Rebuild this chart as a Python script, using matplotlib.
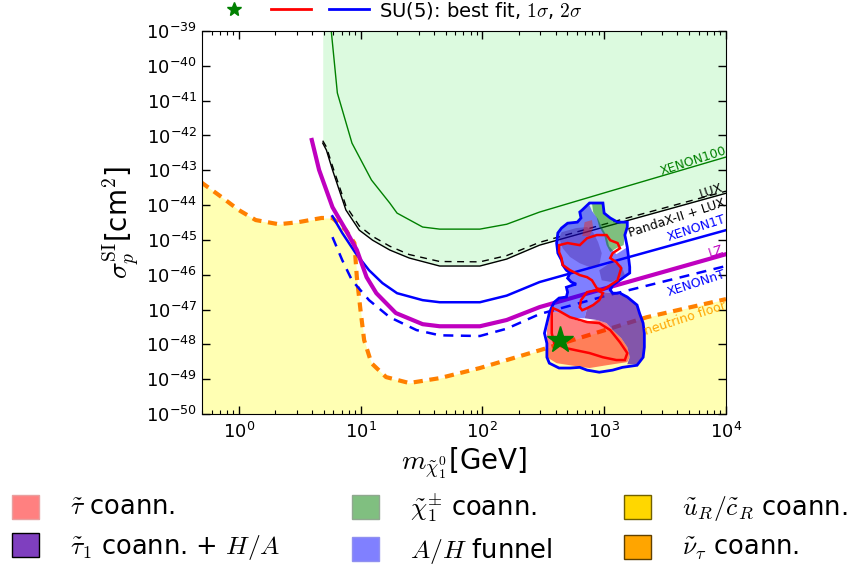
import numpy as np
import matplotlib
matplotlib.use('Agg')
import matplotlib.pyplot as plt
from matplotlib.patches import Patch, Polygon
from matplotlib.lines import Line2D
from matplotlib.legend_handler import HandlerTuple
from matplotlib.ticker import LogLocator, NullLocator, FixedLocator

plt.rcParams['axes.unicode_minus'] = False
plt.rcParams['mathtext.fontset'] = 'cm'
plt.rcParams['font.family'] = ['DejaVu Sans']

# ---------------- data: log10(m / GeV), log10(sigma / cm^2) ----------------
xenon100_logm = [0.76, 0.81, 0.93, 1.09, 1.24, 1.30, 1.51, 1.65, 1.98, 2.20, 2.47, 3.00, 4.00]
xenon100_logs = [-39.0, -40.78, -42.22, -43.28, -43.94, -44.23, -44.63, -44.69, -44.69, -44.55, -44.20, -43.65, -42.62]

lux_logm = [0.69, 0.72, 0.77, 0.88, 0.99, 1.10, 1.24, 1.40, 1.65, 1.98, 2.20, 2.47, 3.00, 4.00]
lux_logs = [-42.22, -42.42, -42.99, -44.14, -44.72, -45.01, -45.29, -45.52, -45.75, -45.75, -45.55, -45.15, -44.63, -43.66]

pandax_logm = [0.69, 0.72, 0.77, 0.88, 0.99, 1.10, 1.24, 1.40, 1.65, 1.98, 2.20, 2.47, 3.00, 4.00]
pandax_logs = [-42.15, -42.33, -42.88, -44.02, -44.60, -44.90, -45.18, -45.42, -45.62, -45.63, -45.45, -45.07, -44.55, -43.60]

xenon1t_logm = [0.77, 0.85, 0.96, 1.07, 1.18, 1.30, 1.51, 1.65, 1.98, 2.20, 2.47, 3.00, 4.00]
xenon1t_logs = [-44.32, -44.80, -45.38, -45.87, -46.24, -46.53, -46.73, -46.79, -46.79, -46.60, -46.21, -45.69, -44.72]

lz_logm = [0.60, 0.66, 0.77, 0.88, 0.97, 1.05, 1.13, 1.29, 1.51, 1.65, 1.98, 2.20, 2.47, 3.00, 4.00]
lz_logs = [-42.13, -42.99, -44.06, -44.72, -45.29, -46.07, -46.53, -47.10, -47.42, -47.48, -47.48, -47.30, -46.93, -46.40, -45.41]

xenonnt_logm = [0.77, 0.85, 0.93, 1.07, 1.24, 1.46, 1.65, 1.98, 2.20, 2.47, 3.00, 4.00]
xenonnt_logs = [-44.92, -45.58, -46.16, -46.73, -47.22, -47.59, -47.74, -47.76, -47.55, -47.13, -46.62, -45.75]

nu_logm = [-0.31, -0.14, 0.00, 0.14, 0.33, 0.49, 0.68, 0.77, 0.88, 0.95, 0.97, 1.00, 1.03,
           1.09, 1.21, 1.40, 1.65, 1.98, 2.47, 3.35, 4.00]
nu_logs = [-43.34, -43.77, -44.14, -44.43, -44.55, -44.49, -44.37, -44.37, -44.72, -45.09, -46.07,
           -47.02, -47.88, -48.54, -48.94, -49.11, -48.97, -48.68, -48.17, -47.22, -46.70]

# SU(5) fit regions
outline2s_logm = [2.88, 2.99, 3.00, 3.05, 3.11, 3.19, 3.19, 3.17, 3.19, 3.21, 3.21, 3.15, 3.07, 3.05,
                  3.07, 3.13, 3.19, 3.27, 3.29, 3.32, 3.33, 3.33, 3.32, 3.27, 3.15, 3.07, 2.96, 2.86,
                  2.80, 2.72, 2.63, 2.55, 2.53, 2.53, 2.51, 2.53, 2.55, 2.57, 2.59, 2.63, 2.69, 2.70,
                  2.69, 2.74, 2.77, 2.73, 2.70, 2.72, 2.69, 2.66, 2.65, 2.62, 2.61, 2.62, 2.65, 2.70,
                  2.78, 2.81, 2.80, 2.82]
outline2s_logs = [-43.94, -43.94, -44.23, -44.37, -44.49, -44.49, -44.63, -44.86, -45.21, -45.78,
                  -45.95, -46.10, -46.30, -46.44, -46.53, -46.53, -46.64, -46.87, -47.10, -47.39,
                  -47.68, -48.08, -48.37, -48.60, -48.66, -48.74, -48.80, -48.74, -48.66, -48.68,
                  -48.68, -48.54, -48.37, -47.97, -47.68, -47.39, -47.10, -46.93, -46.79, -46.67,
                  -46.64, -46.50, -46.36, -46.30, -46.27, -46.21, -46.10, -45.95, -45.87, -45.72,
                  -45.58, -45.38, -45.09, -44.80, -44.66, -44.52, -44.49, -44.37, -44.20, -44.14]

red1_logm = [2.63, 2.70, 2.80, 2.86, 2.94, 3.02, 3.05, 3.11, 3.13, 3.07, 3.05, 3.10, 3.14, 3.11,
             3.05, 2.99, 2.94, 2.90, 2.86, 2.80, 2.72, 2.66, 2.65, 2.63]
red1_logs = [-45.15, -45.09, -45.15, -44.95, -44.86, -44.86, -45.01, -45.09, -45.24, -45.38, -45.52,
             -45.64, -45.81, -46.16, -46.30, -46.44, -46.39, -46.16, -46.07, -46.01, -45.87, -45.72,
             -45.52, -45.35]
red2_logm = [2.86, 2.94, 2.99, 2.96, 2.91, 2.86, 2.82, 2.80, 2.81, 2.84]
red2_logs = [-46.50, -46.44, -46.53, -46.73, -46.87, -46.96, -47.02, -46.93, -46.73, -46.59]
red3_logm = [2.58, 2.62, 2.72, 2.86, 2.96, 3.05, 3.13, 3.19, 3.17, 3.10, 2.99, 2.88, 2.77, 2.69,
             2.59, 2.57, 2.57, 2.57]
red3_logs = [-46.96, -47.02, -47.22, -47.36, -47.39, -47.59, -47.94, -48.25, -48.45, -48.45, -48.37,
             -48.25, -48.17, -48.11, -47.97, -47.68, -47.39, -47.10]

funnel_logm = [3.13, 3.07, 3.05, 3.07, 3.15, 3.21, 3.21, 3.19, 3.10, 3.04, 3.02, 2.98, 2.95, 2.90,
               2.88, 2.82, 2.80, 2.81, 2.78, 2.70, 2.65, 2.62, 2.61, 2.62, 2.65, 2.66, 2.69, 2.72,
               2.70, 2.73, 2.77, 2.74, 2.69, 2.70, 2.69, 2.63, 2.59, 2.57, 2.55, 2.55, 2.58, 2.66,
               2.72, 2.84, 2.86, 2.94, 2.99, 3.09]
funnel_logs = [-46.53, -46.53, -46.44, -46.30, -46.10, -45.95, -45.78, -45.21, -45.41, -45.18, -44.89,
               -44.63, -44.40, -44.17, -44.00, -44.14, -44.20, -44.37, -44.49, -44.52, -44.66, -44.80,
               -45.09, -45.38, -45.58, -45.72, -45.87, -45.95, -46.10, -46.21, -46.27, -46.30, -46.36,
               -46.50, -46.64, -46.67, -46.79, -46.93, -47.10, -47.22, -47.07, -47.10, -47.25, -47.25,
               -46.96, -46.79, -46.50, -46.53]

stau_logm = [2.58, 2.66, 2.72, 2.82, 2.94, 3.02, 3.07, 3.14, 3.19, 3.21, 3.19, 3.02, 2.88, 2.72,
             2.61, 2.53, 2.53, 2.53, 2.55]
stau_logs = [-47.07, -47.10, -47.25, -47.36, -47.30, -47.39, -47.59, -47.82, -48.08, -48.37, -48.51,
             -48.60, -48.68, -48.60, -48.54, -48.37, -47.97, -47.59, -47.22]

purple_logm = [2.99, 3.09, 3.19, 3.27, 3.32, 3.33, 3.32, 3.27, 3.19, 3.21, 3.19, 3.14, 3.07, 3.02,
               2.94, 2.84, 2.86, 2.94]
purple_logs = [-46.50, -46.53, -46.64, -46.87, -47.30, -47.79, -48.31, -48.57, -48.57, -48.37, -48.08,
               -47.82, -47.59, -47.39, -47.30, -47.25, -46.96, -46.79]

purple_up1_logm = [2.65, 2.77, 2.86, 2.91, 2.95, 2.98, 2.96, 2.88, 2.80, 2.72, 2.66, 2.63]
purple_up1_logs = [-44.78, -44.66, -44.63, -44.78, -45.06, -45.38, -45.72, -45.78, -45.67, -45.49, -45.24, -44.95]
purple_up2_logm = [2.96, 3.06, 3.14, 3.17, 3.06, 2.98]
purple_up2_logs = [-45.87, -45.64, -45.72, -46.01, -46.21, -46.16]

chargino_logm = [2.90, 2.99, 3.00, 3.05, 3.11, 3.19, 3.19, 3.17, 3.16, 3.10, 3.05, 3.02, 3.00, 2.96, 2.94, 2.91]
chargino_logs = [-43.94, -43.94, -44.23, -44.37, -44.49, -44.49, -44.63, -44.86, -45.15, -45.24, -45.35,
                 -45.15, -44.86, -44.63, -44.37, -44.20]

stau_up_logm = [2.84, 2.90, 2.91, 2.88, 2.82]
stau_up_logs = [-44.49, -44.43, -44.66, -44.89, -44.89]

bestfit_logm = [2.634]
bestfit_logs = [-47.88]

curve_labels = ['XENON100', 'LUX', 'PandaX-II + LUX', 'XENON1T', 'LZ', 'XENONnT', 'neutrino floor']
curve_label_logm = [3.73, 3.88, 3.60, 3.755, 3.915, 3.755, 3.665]
curve_label_logs = [-42.74, -43.60, -44.37, -44.66, -45.32, -46.24, -47.25]

y_tick_exponents = list(range(-50, -38))
x_tick_exponents = [0, 1, 2, 3, 4]

legend_labels = [r'$\tilde{\tau}$ coann.', r'$\tilde{\tau}_1$ coann. + $H/A$',
                 r'$\tilde{\chi}_1^{\pm}$ coann.', r'$A/H$ funnel',
                 r'$\tilde{u}_R/\tilde{c}_R$ coann.', r'$\tilde{\nu}_{\tau}$ coann.']


def p(a):
    return 10.0 ** np.asarray(a, dtype=float)


fig = plt.figure(figsize=(8.47, 5.69), dpi=100)
ax = fig.add_axes([0.2385, 0.2724, 0.6186, 0.6731])
ax.set_xscale('log')
ax.set_yscale('log')
ax.set_xlim(0.5, 1e4)
ax.set_ylim(1e-50, 1e-39)

# exclusion / floor fills
ax.fill_between(p(lux_logm), p(lux_logs), 1e-39, color='#DCFADF', lw=0, zorder=0.5)
ax.fill_between(p(nu_logm), 1e-50, p(nu_logs), color='#FFFFB3', lw=0, zorder=0.5)

# limit curves
ax.plot(p(nu_logm), p(nu_logs), color='#FF8000', lw=3, ls=(0, (2.2, 1.6)), zorder=2)
ax.plot(p(xenon100_logm), p(xenon100_logs), color='green', lw=1, zorder=2)
ax.plot(p(lux_logm), p(lux_logs), color='black', lw=1, zorder=2)
ax.plot(p(pandax_logm), p(pandax_logs), color='black', lw=1, ls=(0, (5, 4)), zorder=2)
ax.plot(p(xenon1t_logm), p(xenon1t_logs), color='blue', lw=1.8, zorder=2)
ax.plot(p(lz_logm), p(lz_logs), color='#BF00BF', lw=3, zorder=2)
ax.plot(p(xenonnt_logm), p(xenonnt_logs), color='blue', lw=1.8, ls=(0, (4, 3)), zorder=2)


# fit regions
def region(lm, ls_, color, alpha, z=3, ec='none', lw=0):
    ax.add_patch(Polygon(np.column_stack([p(lm), p(ls_)]), closed=True, facecolor=color,
                         edgecolor=ec, lw=lw, alpha=alpha, zorder=z))


region(funnel_logm, funnel_logs, '#0000FF', 0.5)
region(purple_up1_logm, purple_up1_logs, '#3A0A80', 0.3, z=3.1)
region(purple_up2_logm, purple_up2_logs, '#3A0A80', 0.35, z=3.1)
region(chargino_logm, chargino_logs, '#008000', 0.5)
region(stau_up_logm, stau_up_logs, '#FF2000', 0.4, z=3.2)
region(stau_logm, stau_logs, '#FF0000', 0.5)
region(purple_logm, purple_logs, '#5A1EA8', 0.75)

ax.add_patch(Polygon(np.column_stack([p(outline2s_logm), p(outline2s_logs)]), closed=True,
                     fill=False, edgecolor='blue', lw=2, zorder=4))
for lm, ls_ in [(red1_logm, red1_logs), (red2_logm, red2_logs), (red3_logm, red3_logs)]:
    ax.add_patch(Polygon(np.column_stack([p(lm), p(ls_)]), closed=True, fill=False,
                         edgecolor='red', lw=1.8, zorder=4.1))
ax.plot(p(bestfit_logm), p(bestfit_logs), marker='*', color='green', ms=20, ls='none', zorder=5)

# curve labels
label_colors = ['green', 'black', 'black', 'blue', '#BF00BF', 'blue', 'orange']
for t, lm, ls_, c in zip(curve_labels, curve_label_logm, curve_label_logs, label_colors):
    ax.text(p(lm), p(ls_), t, color=c, fontsize=9, rotation=18, rotation_mode='anchor',
            ha='center', va='center', zorder=6)

# axes styling
ax.yaxis.set_major_locator(FixedLocator(p(y_tick_exponents)))
ax.yaxis.set_minor_locator(NullLocator())
ax.xaxis.set_major_locator(FixedLocator(p(x_tick_exponents)))
ax.xaxis.set_minor_locator(LogLocator(base=10, subs=np.arange(2, 10), numticks=20))
ax.tick_params(which='both', direction='in', top=True, right=True, labelsize=13)
ax.tick_params(which='major', length=6, width=1)
ax.tick_params(which='minor', length=3, width=0.8)
ax.tick_params(axis='x', pad=6)
ax.set_xlabel(r'$m_{\tilde{\chi}^0_1}$[GeV]', fontsize=20, labelpad=2)
ax.set_ylabel(r'$\sigma_p^{\rm SI}$[cm$^2$]', fontsize=20, labelpad=4)

# top legend: one entry with three handles side by side
h_star = Line2D([], [], marker='*', color='green', ls='none', ms=10)
h_red = Line2D([], [], color='red', lw=2)
h_blue = Line2D([], [], color='blue', lw=2)
fig.legend([(h_star, h_red, h_blue)], [r'SU(5): best fit, $1\sigma$, $2\sigma$'],
           handler_map={tuple: HandlerTuple(ndivide=None, pad=0.9)},
           frameon=False, loc='center left', bbox_to_anchor=(0.252, 0.982), fontsize=14,
           handlelength=8.0, handletextpad=0.5, borderaxespad=0, borderpad=0)

# bottom legend
patch_fc = ['#FF8080', '#7F3FBF', '#80BF80', '#8080FF', '#FFD700', '#FFA500']
patch_ec = ['#E8A0A0', 'black', '#90A890', '#9090F0', '#706000', '#604000']
h_bot = [Patch(facecolor=f, edgecolor=e, lw=1) for f, e in zip(patch_fc, patch_ec)]
fig.legend(h_bot, legend_labels, ncol=3, frameon=False, loc='upper left',
           bbox_to_anchor=(0.014, 0.137), fontsize=18.5, handlelength=1.05, handleheight=1.05,
           handletextpad=1.2, columnspacing=2.8, labelspacing=0.45, borderaxespad=0, borderpad=0)

fig.savefig('out.png', dpi=100)
